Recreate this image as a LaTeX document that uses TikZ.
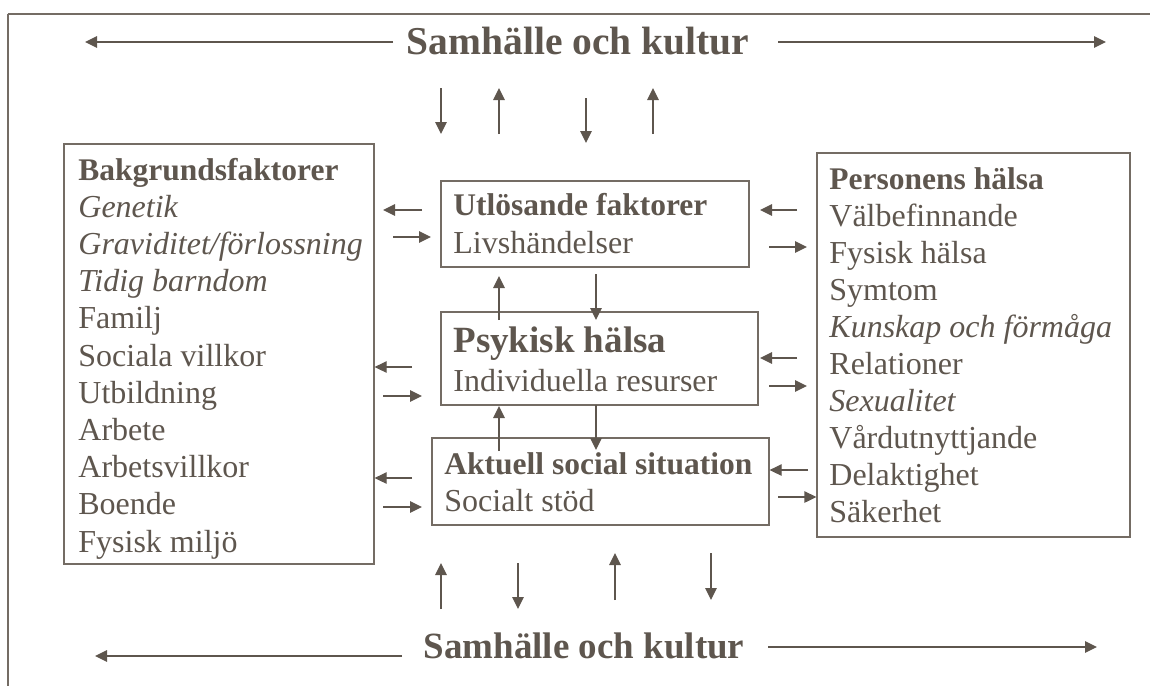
\documentclass[tikz,border=0pt]{standalone}
\usepackage{fontspec}
\setmainfont{Liberation Serif}
\usetikzlibrary{arrows.meta,fit}

\definecolor{ink}{RGB}{94,86,78}
\definecolor{rule}{RGB}{116,108,100}

\tikzset{
  box/.style={draw=rule, line width=0.65pt, inner sep=0pt},
  txt/.style={anchor=base west, inner sep=0pt, text=ink, font=\fontsize{16}{19}\selectfont},
  head/.style={txt, font=\fontsize{15.75}{19}\selectfont\bfseries},
  big/.style={inner sep=0pt, text=ink, font=\fontsize{18.5}{22}\selectfont\bfseries},
  arr/.style={draw=ink, line width=0.65pt, -{Triangle[length=6pt,width=5.75pt]}},
}

\begin{document}
\begin{tikzpicture}[x=0.5pt,y=-0.5pt]
    \useasboundingbox (0,0) rectangle (1150,686);
    % frame
    \draw[rule, line width=1.35pt] (7.5,14) -- (1150,14);
    \draw[rule, line width=0.85pt] (8,14) -- (8,686);

    % society, top and bottom
    \node[big, anchor=base, font=\fontsize{19.75}{23}\selectfont\bfseries] (topsam) at (578,54) {Samhälle och kultur};
    \node[big, anchor=base] (botsam) at (584,658) {Samhälle och kultur};
    \draw[arr] (393,42) -- (85,42);
    \draw[arr] (778,42) -- (1106,42);
    \draw[arr] (402,656) -- (95,656);
    \draw[arr] (768,647) -- (1097,647);

    % boxes
    \node[box, fit={(64,144) (374,564)}] (bak) {};
    \node[box, fit={(817,153) (1130,537)}] (pers) {};
    \node[box, fit={(441,181) (749,267)}] (utl) {};
    \node[box, fit={(441,312) (758,405)}] (psy) {};
    \node[box, fit={(432,438) (769,525)}] (akt) {};

    % background factors
    \node[head] (bak-0) at (78,180) {Bakgrundsfaktorer};
    \foreach \entry [count=\i] in {\textit{Genetik}, \textit{Graviditet/förlossning},
        \textit{Tidig barndom}, Familj, Sociala villkor, Utbildning, Arbete,
        Arbetsvillkor, Boende, Fysisk miljö}
      \node[txt] (bak-\i) at (78,{180+37.2*\i}) {\entry};

    % the person's health
    \node[head] (pers-0) at (829,189) {Personens hälsa};
    \foreach \entry [count=\i] in {Välbefinnande, Fysisk hälsa, Symtom,
        \textit{Kunskap och förmåga}, Relationer, \textit{Sexualitet},
        Vårdutnyttjande, Delaktighet, Säkerhet}
      \node[txt] (pers-\i) at (829,{189+37.1*\i}) {\entry};

    % middle column
    \node[head] (utl-t) at (453,215) {Utlösande faktorer};
    \node[txt] (utl-s) at (453,253) {Livshändelser};
    \node[big, anchor=base west] (psy-t) at (453,352) {Psykisk hälsa};
    \node[txt] (psy-s) at (453,391) {Individuella resurser};
    \node[head] (akt-t) at (444,474) {Aktuell social situation};
    \node[txt] (akt-s) at (444,511) {Socialt stöd};

    % arrows to and from society
    \draw[arr] (441,88) -- (441,134);
    \draw[arr] (499,134) -- (499,88);
    \draw[arr] (586,98) -- (586,143);
    \draw[arr] (653,134) -- (653,88);
    \draw[arr] (441,609) -- (441,563);
    \draw[arr] (518,563) -- (518,609);
    \draw[arr] (615,600) -- (615,553);
    \draw[arr] (711,553) -- (711,600);

    % arrows in the middle column
    \draw[arr] (499,320) -- (499,276);
    \draw[arr] (596,274) -- (596,320);
    \draw[arr] (499,451) -- (499,406);
    \draw[arr] (596,405) -- (596,450);

    % arrows on the left
    \draw[arr] (422,210) -- (383,210);
    \draw[arr] (393,237) -- (431,237);
    \draw[arr] (412,367) -- (bak.east |- 0,367);
    \draw[arr] (383,396) -- (422,396);
    \draw[arr] (412,478) -- (bak.east |- 0,478);
    \draw[arr] (383,507) -- (422,507);

    % arrows on the right
    \draw[arr] (797,210) -- (760,210);
    \draw[arr] (769,247) -- (807,247);
    \draw[arr] (797,358) -- (760,358);
    \draw[arr] (769,386) -- (807,386);
    \draw[arr] (808,470) -- (akt.east |- 0,470);
    \draw[arr] (778,497) -- (pers.west |- 0,497);
\end{tikzpicture}
\end{document}
